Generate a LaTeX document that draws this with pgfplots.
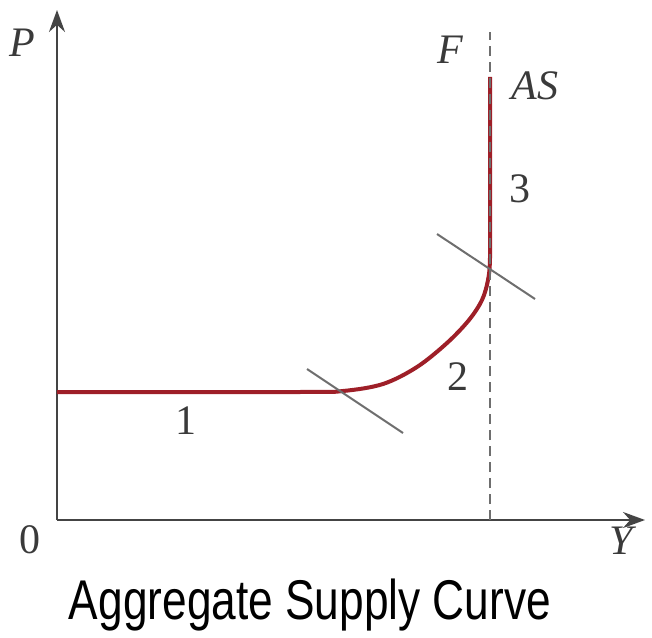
\documentclass[border=0pt]{standalone}
\usepackage{pgfplots}
\pgfplotsset{compat=1.18}
\usepackage{graphicx}
\usepackage{fontspec}
\setmainfont{Liberation Serif}
\newfontfamily\titlefont{Liberation Sans}
\usetikzlibrary{arrows.meta}
\definecolor{curvered}{HTML}{9E1F28}
\definecolor{axisgray}{HTML}{444444}
\definecolor{segray}{HTML}{6E6E6E}
\definecolor{txt}{HTML}{3A3A3A}
\tikzset{lbl/.style={text=txt, font=\fontsize{21}{25}\selectfont}}
\begin{document}
\begin{tikzpicture}
\begin{axis}[
  scale only axis, width=294pt, height=255pt,
  xmin=0, xmax=588, ymin=0, ymax=510,
  axis lines=left, xtick=\empty, ytick=\empty,
  axis line style={axisgray, line width=1pt, -{Stealth[length=11pt,width=8pt]}},
  clip=false]
% invisible frame: keeps the picture at the reference size
\path (axis cs:-57,-113) rectangle (axis cs:595,520);
% aggregate supply curve
\addplot[curvered, line width=2pt, smooth, tension=0.55] coordinates {
  (0,128) (243,128) (286,129) (326,136) (360,153) (390,177) (412,200)
  (425,220) (431,240) (433,262) (433,320) (433,443)};
% full-employment line F
\addplot[segray, line width=1pt, dash pattern=on 5pt off 3pt] coordinates {(433,0) (433,488)};
% segment markers
\addplot[segray, line width=1pt] coordinates {(250,151) (346,87)};
\addplot[segray, line width=1pt] coordinates {(380,286) (478,221)};
% labels
\node[lbl] at (axis cs:-35,477) {\textit{P}};
\node[lbl] at (axis cs:393,470) {\textit{F}};
\node[lbl] at (axis cs:478,434) {\textit{AS}};
\node[lbl] at (axis cs:463,331) {3};
\node[lbl] at (axis cs:401,143) {2};
\node[lbl] at (axis cs:129,99) {1};
\node[lbl] at (axis cs:-27,-20) {0};
\node[lbl] at (axis cs:566,-21) {\textit{Y}};
\node[text=black, font=\titlefont\fontsize{28}{32}\selectfont] at (axis cs:253,-85)
  {\scalebox{0.79}[1]{Aggregate Supply Curve}};
\end{axis}
\end{tikzpicture}
\end{document}
